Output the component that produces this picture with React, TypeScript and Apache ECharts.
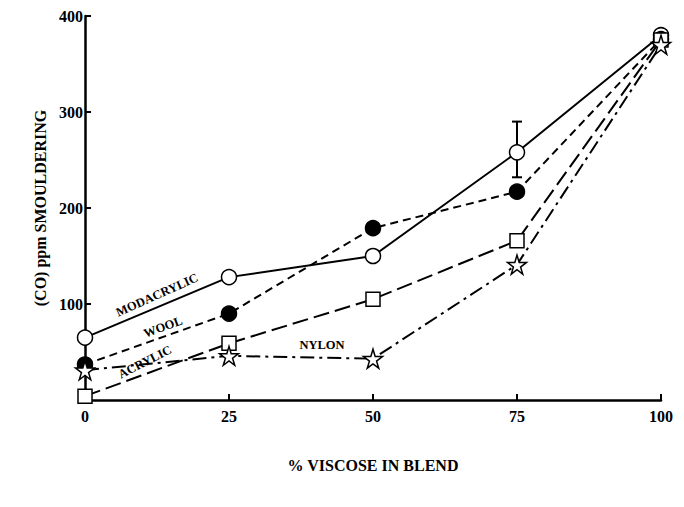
import React, { useEffect, useRef } from "react";
import * as echarts from "echarts";

const xValues = [0, 25, 50, 75, 100];
const modacrylic = [65, 128, 150, 258, 380];
const wool = [37, 90, 179, 217, 376];
const acrylic = [4, 59, 105, 166, 375];
const nylon = [31, 46, 43, 141, 370];
const modacrylicError = [[75, 232, 290]];
const yTicks = [100, 200, 300, 400];

const FONT = "'Liberation Serif', 'DejaVu Serif', serif";
const STAR =
  "path://M50,0 L61,35 L98,35 L68,57 L79,91 L50,70 L21,91 L32,57 L2,35 L39,35 Z";

export default function App() {
  const ref = useRef<HTMLDivElement>(null);
  useEffect(() => {
    if (!ref.current) return;
    const chart = echarts.init(ref.current, null, { renderer: "svg" });
    const pair = (arr: number[]) => xValues.map((x, i) => [x, arr[i]]);
    const lineBase = (name: string, data: number[], type: any, symbol: string, fill: string, size: number) => ({
      name,
      type: "line",
      data: pair(data),
      symbol,
      symbolSize: size,
      showAllSymbol: true,
      lineStyle: { color: "#000", width: 2, type },
      itemStyle: { color: fill, borderColor: "#000", borderWidth: 1.5 },
      z: 3,
    });
    const lbl = (text: string, x: number, y: number, deg: number) => ({
      type: "text",
      x,
      y,
      rotation: (deg * Math.PI) / 180,
      style: {
        text,
        font: `bold 12.5px ${FONT}`,
        fill: "#000",
        textAlign: "center",
        textVerticalAlign: "middle",
      },
    });
    chart.setOption({
      animation: false,
      grid: { left: 77, right: 11, top: 7, bottom: 99, containLabel: false },
      xAxis: {
        type: "value",
        min: 0,
        max: 100,
        interval: 25,
        splitLine: { show: false },
        axisLine: { lineStyle: { color: "#000", width: 2.5 } },
        axisTick: { inside: true, length: 6, lineStyle: { color: "#000", width: 2 } },
        axisLabel: {
          color: "#000",
          fontFamily: FONT,
          fontWeight: "bold",
          fontSize: 16,
          margin: 8,
        },
        name: "% VISCOSE IN BLEND",
        nameLocation: "middle",
        nameGap: 57,
        nameTextStyle: { color: "#000", fontFamily: FONT, fontWeight: "bold", fontSize: 16 },
      },
      yAxis: {
        type: "value",
        min: 0,
        max: 400,
        interval: 100,
        splitLine: { show: false },
        axisLine: { show: true, lineStyle: { color: "#000", width: 2.5 } },
        axisTick: { inside: true, length: 6, lineStyle: { color: "#000", width: 2 } },
        axisLabel: {
          color: "#000",
          fontFamily: FONT,
          fontWeight: "bold",
          fontSize: 16,
          margin: 2,
          formatter: (v: number) => (yTicks.includes(v) ? String(v) : ""),
        },
        name: "(CO) ppm SMOULDERING",
        nameLocation: "middle",
        nameGap: 32,
        nameRotate: 90,
        nameTextStyle: { color: "#000", fontFamily: FONT, fontWeight: "bold", fontSize: 16 },
      },
      series: [
        lineBase("MODACRYLIC", modacrylic, "solid", "circle", "#fff", 15),
        lineBase("WOOL", wool, [8, 5], "circle", "#000", 15),
        lineBase("ACRYLIC", acrylic, [16, 6], "rect", "#fff", 14),
        lineBase("NYLON", nylon, [14, 5, 3, 5], STAR, "#fff", 19),
        {
          type: "custom",
          data: modacrylicError,
          z: 2,
          renderItem: (params: any, api: any) => {
            const top = api.coord([api.value(0), api.value(2)]);
            const bot = api.coord([api.value(0), api.value(1)]);
            const w = 5;
            const style = { stroke: "#000", lineWidth: 2 };
            return {
              type: "group",
              children: [
                { type: "line", shape: { x1: top[0], y1: top[1], x2: bot[0], y2: bot[1] }, style },
                { type: "line", shape: { x1: top[0] - w, y1: top[1], x2: top[0] + w, y2: top[1] }, style },
                { type: "line", shape: { x1: bot[0] - w, y1: bot[1], x2: bot[0] + w, y2: bot[1] }, style },
              ],
            };
          },
        },
      ],
      graphic: [
        lbl("MODACRYLIC", 149, 287, 24),
        lbl("WOOL", 155, 319, 20),
        lbl("ACRYLIC", 137, 354, 27),
        lbl("NYLON", 314, 337, 0),
      ],
    });
    return () => chart.dispose();
  }, []);
  return <div ref={ref} style={{ width: 668, height: 491 }} />;
}
